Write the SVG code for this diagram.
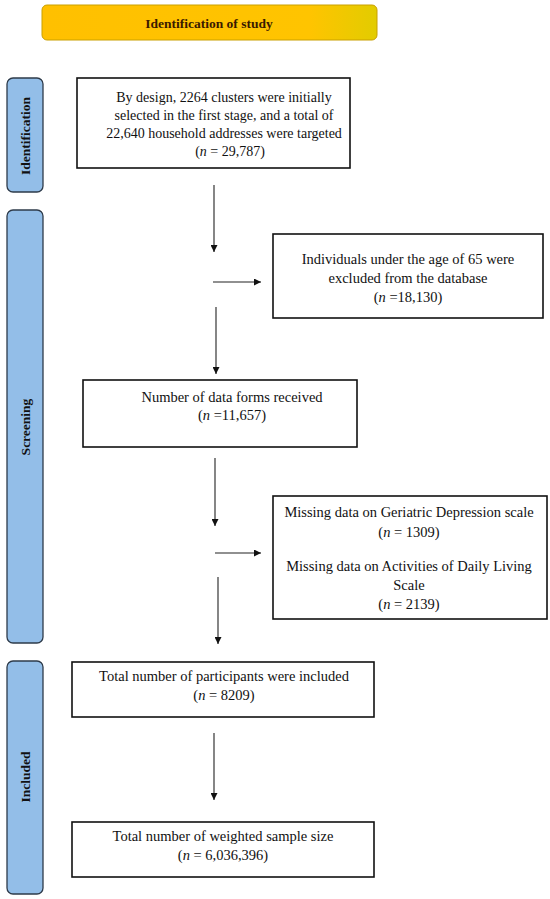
<svg xmlns="http://www.w3.org/2000/svg" width="550" height="899" viewBox="0 0 550 899">
<defs>
<linearGradient id="hdr" x1="0" y1="0" x2="1" y2="0">
<stop offset="0" stop-color="#FFC000"/>
<stop offset="0.8" stop-color="#FFC400"/>
<stop offset="1" stop-color="#E2CC00"/>
</linearGradient>
<marker id="ah" viewBox="0 0 10 10" refX="10" refY="5" markerWidth="7" markerHeight="7" markerUnits="userSpaceOnUse" orient="auto">
<path d="M0,0 L10,5 L0,10 z" fill="#111"/>
</marker>
<style>
.box{fill:#fff;stroke:#111;stroke-width:1.6}
.bar{fill:#93BEE8;stroke:#2E3B4A;stroke-width:1.3}
.t{font-family:"Liberation Serif","Times New Roman",serif;font-size:14.5px;fill:#111;text-anchor:middle}
.t1{font-size:14px}
.lbl{font-family:"Liberation Serif","Times New Roman",serif;font-size:13.5px;font-weight:bold;fill:#111;text-anchor:middle}
.c{stroke:#222;stroke-width:1.1;fill:none}
.it{font-style:italic}
</style>
</defs>
<rect width="550" height="899" fill="#fff"/>
<g id="header">
<rect x="42" y="5" width="335" height="35" rx="5" fill="url(#hdr)" stroke="#C9A000" stroke-width="1"/>
<text x="209" y="28" font-family="Liberation Serif,Times New Roman,serif" font-size="13.5" font-weight="bold" fill="#3A1A00" text-anchor="middle">Identification of study</text>
</g>
<g id="bar-identification">
<rect class="bar" x="7" y="78" width="36" height="114" rx="6"/>
<text class="lbl" transform="translate(29.5,136) rotate(-90)">Identification</text>
</g>
<g id="bar-screening">
<rect class="bar" x="7" y="210" width="36" height="433" rx="6"/>
<text class="lbl" transform="translate(29.5,427) rotate(-90)">Screening</text>
</g>
<g id="bar-included">
<rect class="bar" x="7" y="661" width="36" height="233" rx="6"/>
<text class="lbl" transform="translate(29.5,777) rotate(-90)">Included</text>
</g>
<g id="box-design">
<rect class="box" x="77" y="78" width="273" height="90"/>
<text class="t t1" x="224" y="102">By design, 2264 clusters were initially</text>
<text class="t t1" x="224" y="120">selected in the first stage, and a total of</text>
<text class="t t1" x="224" y="138">22,640 household addresses were targeted</text>
<text class="t t1" x="230" y="156">(<tspan class="it">n</tspan> = 29,787)</text>
</g>
<g id="box-excluded-age">
<rect class="box" x="273" y="234" width="270" height="84"/>
<text class="t" x="408" y="264">Individuals under the age of 65 were</text>
<text class="t" x="408" y="283">excluded from the database</text>
<text class="t" x="408" y="302">(<tspan class="it">n</tspan> =18,130)</text>
</g>
<g id="box-forms">
<rect class="box" x="83" y="380" width="274" height="67"/>
<text class="t" x="232" y="402">Number of data forms received</text>
<text class="t" x="232" y="420">(<tspan class="it">n</tspan> =11,657)</text>
</g>
<g id="box-missing">
<rect class="box" x="273" y="496" width="274" height="123"/>
<text class="t" x="409" y="517">Missing data on Geriatric Depression scale</text>
<text class="t" x="409" y="537">(<tspan class="it">n</tspan> = 1309)</text>
<text class="t" x="409" y="571">Missing data on Activities of Daily Living</text>
<text class="t" x="409" y="590">Scale</text>
<text class="t" x="409" y="609">(<tspan class="it">n</tspan> = 2139)</text>
</g>
<g id="box-included">
<rect class="box" x="72" y="662" width="302" height="55"/>
<text class="t" x="224" y="681">Total number of participants were included</text>
<text class="t" x="224" y="700">(<tspan class="it">n</tspan> = 8209)</text>
</g>
<g id="box-weighted">
<rect class="box" x="72" y="822" width="302" height="55"/>
<text class="t" x="223" y="841">Total number of weighted sample size</text>
<text class="t" x="223" y="860">(<tspan class="it">n</tspan> = 6,036,396)</text>
</g>
<g id="connectors">
<line class="c" x1="214" y1="185" x2="214" y2="252" marker-end="url(#ah)"/>
<line class="c" x1="213" y1="282" x2="261" y2="282" marker-end="url(#ah)"/>
<line class="c" x1="216" y1="307" x2="216" y2="374" marker-end="url(#ah)"/>
<line class="c" x1="215" y1="458" x2="215" y2="526" marker-end="url(#ah)"/>
<line class="c" x1="215" y1="553" x2="261" y2="553" marker-end="url(#ah)"/>
<line class="c" x1="218" y1="577" x2="218" y2="644" marker-end="url(#ah)"/>
<line class="c" x1="214" y1="733" x2="214" y2="800" marker-end="url(#ah)"/>
</g>
</svg>
